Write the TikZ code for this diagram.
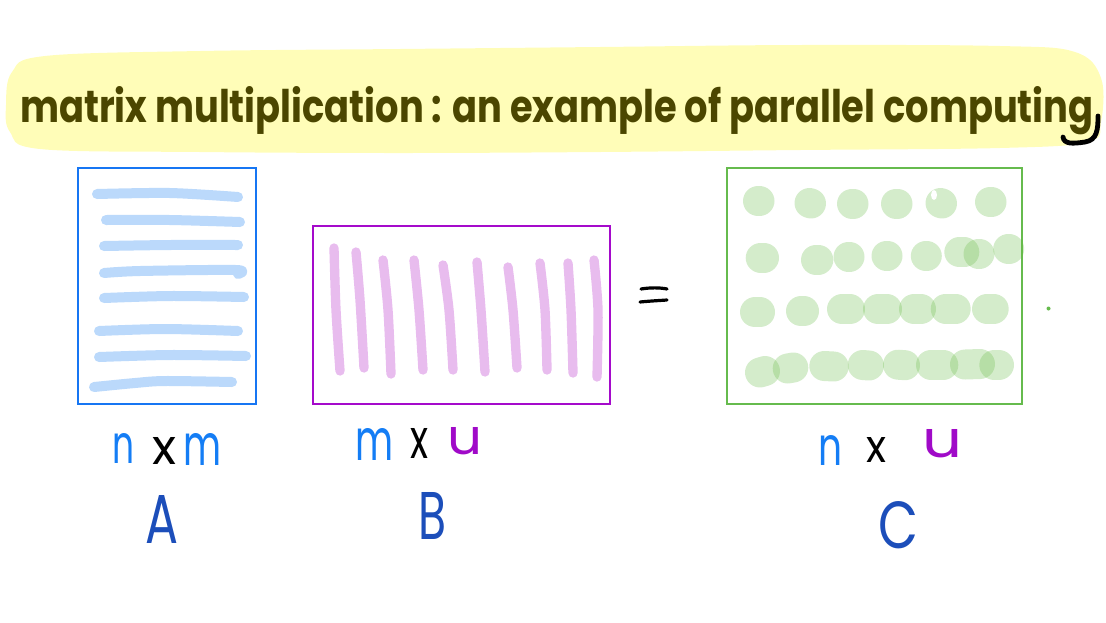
\documentclass[tikz,border=0pt]{standalone}
\usepackage{fontspec}
\setmainfont{Poppins}
\usepackage{graphicx}
\newlength\pxu \setlength\pxu{0.75pt}
\newcommand\hwtxt[3]{\resizebox{#1\pxu}{#2\pxu}{#3}}
\definecolor{hiyellow}{RGB}{255,253,184}
\definecolor{titlecol}{RGB}{75,70,0}
\definecolor{boxblue}{RGB}{22,118,243}
\definecolor{boxpurple}{RGB}{165,10,203}
\definecolor{boxgreen}{RGB}{102,187,77}
\definecolor{stripeblue}{RGB}{187,217,251}
\definecolor{stripepink}{RGB}{232,188,238}
\definecolor{blobgreen}{RGB}{102,187,68}
\definecolor{lblblue}{RGB}{20,125,245}
\definecolor{lblpurple}{RGB}{160,10,200}
\definecolor{bigblue}{RGB}{28,78,186}
\begin{document}
\begin{tikzpicture}[x=0.75pt,y=-0.75pt,
  mbox/.style={line width=1.9pt},
  astripe/.style={draw=stripeblue,line width=7.5pt,line cap=round,line join=round},
  bstripe/.style={draw=stripepink,line width=7pt,line cap=round,line join=round},
  blob/.style={draw=blobgreen,draw opacity=0.28,line width=22.5pt,line cap=round},
  letter/.style={inner sep=0pt,outer sep=0pt,anchor=center},
  eqbar/.style={draw=black,line width=2.4pt,line cap=round},
  hook/.style={draw=black,line width=3.6pt,line cap=round}]
\useasboundingbox (0,0) rectangle (1106,622);
% highlight
\fill[hiyellow] plot[smooth cycle,tension=0.6] coordinates {(6,105) (12,72) (45,56) (200,51) (400,49) (600,47) (800,45) (1000,46) (1075,52) (1101,78) (1101,122) (1088,142) (1000,148) (800,150) (600,152) (400,153) (200,152) (40,149) (10,132)};
% title
\node[inner sep=0pt,anchor=base west,text=titlecol] (title) at (20,122)
  {\hwtxt{1073}{36}{\bfseries matrix multiplication : an example of parallel computing}};
\draw[hook] (1098,116) .. controls (1098,130) and (1097,140) .. (1085,142) .. controls (1072,144) and (1064,144) .. (1063,137);
% box A
\draw[mbox,boxblue] (78,168) rectangle (256,404);
\draw[astripe] plot[smooth] coordinates {(97,194) (170,193) (238,197)};
\draw[astripe] plot[smooth] coordinates {(106,220) (170,220) (240,222)};
\draw[astripe] plot[smooth] coordinates {(104,246) (170,245) (238,245)};
\draw[astripe] plot[smooth] coordinates {(104,273) (140,271) (236,270) (238,274)};
\draw[astripe] plot[smooth] coordinates {(104,298) (170,296) (244,297)};
\draw[astripe] plot[smooth] coordinates {(99,331) (165,329) (238,331)};
\draw[astripe] plot[smooth] coordinates {(99,357) (170,355) (246,356)};
\draw[astripe] plot[smooth] coordinates {(94,387) (135,383) (165,381) (232,382)};
% box B
\draw[mbox,boxpurple] (313,226) rectangle (610,404);
\draw[bstripe] plot[smooth] coordinates {(334,248) (336,310) (340,371)};
\draw[bstripe] plot[smooth] coordinates {(356,252) (360,300) (364,368)};
\draw[bstripe] plot[smooth] coordinates {(383,260) (388,310) (391,374)};
\draw[bstripe] plot[smooth] coordinates {(414,260) (419,310) (423,370)};
\draw[bstripe] plot[smooth] coordinates {(443,265) (449,310) (453,370)};
\draw[bstripe] plot[smooth] coordinates {(477,262) (481,310) (485,372)};
\draw[bstripe] plot[smooth] coordinates {(508,267) (513,310) (517,368)};
\draw[bstripe] plot[smooth] coordinates {(540,263) (545,310) (547,370)};
\draw[bstripe] plot[smooth] coordinates {(568,263) (571,310) (573,373)};
\draw[bstripe] plot[smooth] coordinates {(594,260) (598,310) (597,377)};
% equals sign
\draw[eqbar] (641,289) .. controls (650,287.5) and (660,287.5) .. (667,289);
\draw[eqbar] (640,302) .. controls (650,301) and (660,300.5) .. (667,300);
% box C
\draw[mbox,boxgreen] (727,168) rectangle (1022,404);
% row 1
\draw[blob] (758,201) -- (759.5,201);
\draw[blob] (809.5,203) -- (811,203.5);
\draw[blob] (852,203.5) -- (853.5,203.5);
\draw[blob] (896,203.5) -- (897.5,203.5);
\draw[blob] (940.5,203) -- (942,203.5);
\draw[blob] (990,202) -- (991.5,202);
\fill[white] (934,195) ellipse (3 and 5);
% row 2
\draw[blob] (760.7,257.7) -- (764,257.7);
\draw[blob] (816,259.7) -- (818.3,259.7);
\draw[blob] (848.5,256.7) -- (849.5,256.7);
\draw[blob] (886.5,255.7) -- (887.5,255.7);
\draw[blob] (925.8,256) -- (926.8,256);
\draw[blob] (959.3,252.3) -- (964.3,252.3);
\draw[blob] (978.5,253.7) -- (979.5,253.7);
\draw[blob] (1008.2,249) -- (1009.2,249);
% row 3
\draw[blob] (755,312.3) -- (760,312.3);
\draw[blob] (801,311.3) -- (804,311.3);
\draw[blob] (842,309.3) -- (850,309.3);
\draw[blob] (878,309.3) -- (887,309.3);
\draw[blob] (914,309) -- (921,309);
\draw[blob] (945.7,308.7) -- (955.7,308.7);
\draw[blob] (987,308.7) -- (993.7,308.7);
% row 4
\draw[blob] (760,372.5) -- (765,371);
\draw[blob] (787.7,368.5) -- (793.3,367.5);
\draw[blob] (824.3,366) -- (833.7,366.5);
\draw[blob] (862.7,365) -- (869,365.5);
\draw[blob] (898,364.7) -- (905,365.2);
\draw[blob] (931,364.7) -- (943.3,364.7);
\draw[blob] (965,364.5) -- (980,364);
\draw[blob] (994.3,365) -- (999,365);
\fill[boxgreen] (1048.5,308.5) circle (2);
% labels under A
\node[letter,text=lblblue] (An) at (123.5,448) {\hwtxt{22}{30}{n}};
\node[letter,text=black] (Ax) at (164.5,451) {\hwtxt{24}{27}{x}};
\node[letter,text=lblblue] (Am) at (202.5,449) {\hwtxt{38}{32}{m}};
\node[letter,text=bigblue] (A) at (162.5,519) {\hwtxt{33}{48}{A}};
% labels under B
\node[letter,text=lblblue] (Bm) at (374,444) {\hwtxt{38}{32}{m}};
\node[letter,text=black] (Bx) at (419,443) {\hwtxt{18}{30}{x}};
\node[letter,text=lblpurple] (Bu) at (465,441.5) {\hwtxt{35}{27}{u}};
\node[letter,text=bigblue] (B) at (432.5,516) {\hwtxt{28}{47}{B}};
% labels under C
\node[letter,text=lblblue] (Cn) at (830.5,450) {\hwtxt{24}{30}{n}};
\node[letter,text=black] (Cx) at (876,449.5) {\hwtxt{20}{25}{x}};
\node[letter,text=lblpurple] (Cu) at (942,444) {\hwtxt{40}{28}{u}};
\node[letter,text=bigblue] (C) at (898,525) {\hwtxt{40}{47}{C}};
\end{tikzpicture}
\end{document}
